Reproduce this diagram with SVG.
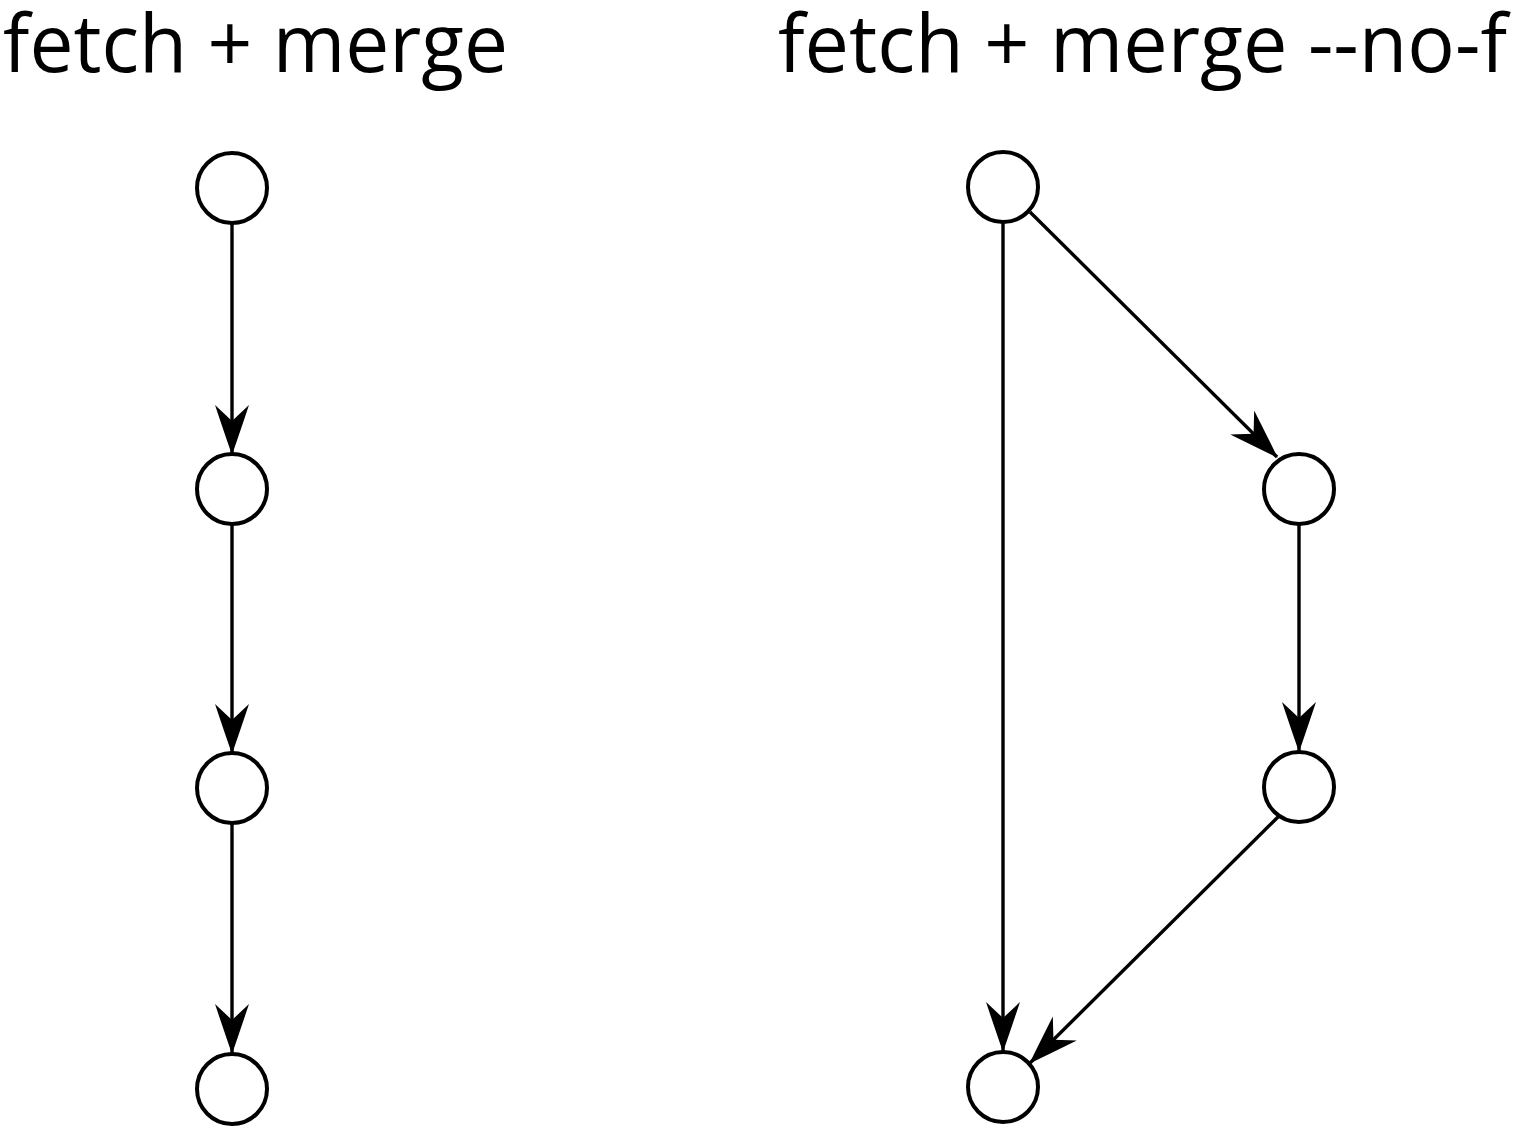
<svg xmlns="http://www.w3.org/2000/svg" width="1515" height="1127" viewBox="0 0 1515 1127">
<style>
.title{font-family:"Open Sans","Noto Sans","Liberation Sans",sans-serif;font-size:80px;fill:#000}
.node{fill:#fff;stroke:#000;stroke-width:4}
.edge{fill:none;stroke:#000;stroke-width:3.4;marker-end:url(#arr)}
</style>
<defs>
<marker id="arr" markerUnits="userSpaceOnUse" orient="auto" markerWidth="60" markerHeight="40" viewBox="-55 -20 60 40" refX="0" refY="0">
<path d="M1,0 Q-22,-8 -49,-17 L-33,0 L-49,17 Q-22,8 1,0 Z" fill="#000"/>
</marker>
</defs>
<rect width="1515" height="1127" fill="#fff"/>
<text class="title" x="3" y="72" textLength="505" lengthAdjust="spacingAndGlyphs">fetch + merge</text>
<text class="title" x="778" y="72" textLength="729" lengthAdjust="spacingAndGlyphs">fetch + merge --no-f</text>
<g id="connectors">
<line class="edge" x1="232" y1="224" x2="232" y2="454"/>
<line class="edge" x1="232" y1="525" x2="232" y2="753"/>
<line class="edge" x1="232" y1="824" x2="232" y2="1053"/>
<line class="edge" x1="1003" y1="223" x2="1003" y2="1051"/>
<line class="edge" x1="1030" y1="212" x2="1277" y2="457"/>
<line class="edge" x1="1299" y1="525" x2="1299" y2="751"/>
<line class="edge" x1="1278" y1="817" x2="1030" y2="1063"/>
</g>
<g id="l1"><circle class="node" cx="232" cy="188" r="35"/></g>
<g id="l2"><circle class="node" cx="232" cy="489" r="35"/></g>
<g id="l3"><circle class="node" cx="232" cy="788" r="35"/></g>
<g id="l4"><circle class="node" cx="232" cy="1089" r="35"/></g>
<g id="r1"><circle class="node" cx="1003" cy="187" r="35"/></g>
<g id="r2"><circle class="node" cx="1299" cy="489" r="35"/></g>
<g id="r3"><circle class="node" cx="1299" cy="787" r="35"/></g>
<g id="r4"><circle class="node" cx="1003" cy="1087" r="35"/></g>
</svg>
